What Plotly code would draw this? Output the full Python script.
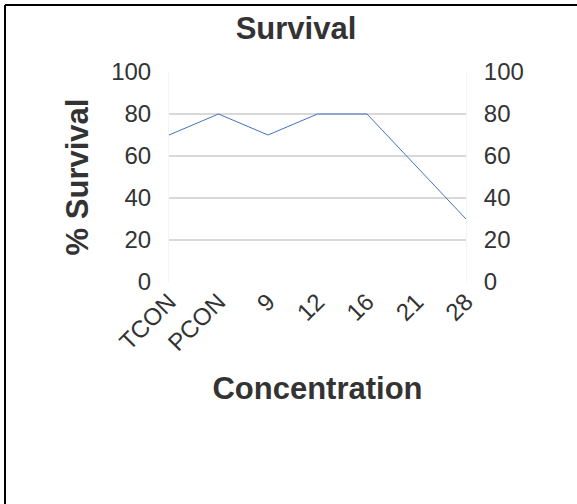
import plotly.graph_objects as go

# Survival by concentration
concentrations = ["TCON", "PCON", "9", "12", "16", "21", "28"]
survival_pct = [70, 80, 70, 80, 80, 55, 30]
y_ticks = [0, 20, 40, 60, 80, 100]

FONT = "Liberation Sans, Arial, sans-serif"
TEXT = "#333333"
GRID = "#d9d9d9"

fig = go.Figure()
fig.add_trace(go.Scatter(
    x=concentrations, y=survival_pct, mode="lines",
    line=dict(color="#4472C4", width=1), showlegend=False,
))
# same series on the secondary axis so the right-hand scale is drawn
fig.add_trace(go.Scatter(
    x=concentrations, y=survival_pct, mode="lines", yaxis="y2",
    line=dict(color="rgba(0,0,0,0)", width=0), showlegend=False, hoverinfo="skip",
))

frame = dict(color="black", width=2)

fig.update_layout(
    width=577, height=504,
    margin=dict(l=169, r=111, t=72, b=222),
    paper_bgcolor="white", plot_bgcolor="white",
    font=dict(family=FONT, color=TEXT),
    title=dict(text="<b>Survival</b>", x=296 / 577, xanchor="center", xref="container",
               y=1 - 28 / 504, yref="container", yanchor="middle",
               font=dict(size=31, color=TEXT, family=FONT)),
    xaxis=dict(
        type="category", range=[0, 6], tickangle=-45,
        tickfont=dict(size=24, color=TEXT), showgrid=False,
        showline=False, zeroline=False, ticks="",
        title=dict(text="<b>Concentration</b>", font=dict(size=31, color=TEXT), standoff=22),
    ),
    yaxis=dict(
        range=[0, 100], tickvals=y_ticks, tickfont=dict(size=24, color=TEXT),
        showgrid=True, gridcolor=GRID, gridwidth=2, zeroline=False,
        showline=True, linecolor="#f4f4f4", linewidth=1, ticks="",
        ticklabelstandoff=12,
        title=dict(text="<b>% Survival</b>", font=dict(size=31, color=TEXT), standoff=13),
    ),
    yaxis2=dict(
        range=[0, 100], tickvals=y_ticks, tickfont=dict(size=24, color=TEXT),
        overlaying="y", side="right", showgrid=False, zeroline=False,
        showline=True, linecolor="#f4f4f4", linewidth=1, ticks="",
        ticklabelstandoff=12,
    ),
    # top and left edges of the chart frame
    shapes=[
        dict(type="line", xref="paper", yref="paper",
             x0=-164 / 297, x1=1 + 140 / 297, y0=1 + 67 / 210, y1=1 + 67 / 210,
             line=frame, layer="above"),
        dict(type="line", xref="paper", yref="paper",
             x0=-164 / 297, x1=-164 / 297, y0=-260 / 210, y1=1 + 67 / 210,
             line=frame, layer="above"),
    ],
)

fig.write_html("out.html")
